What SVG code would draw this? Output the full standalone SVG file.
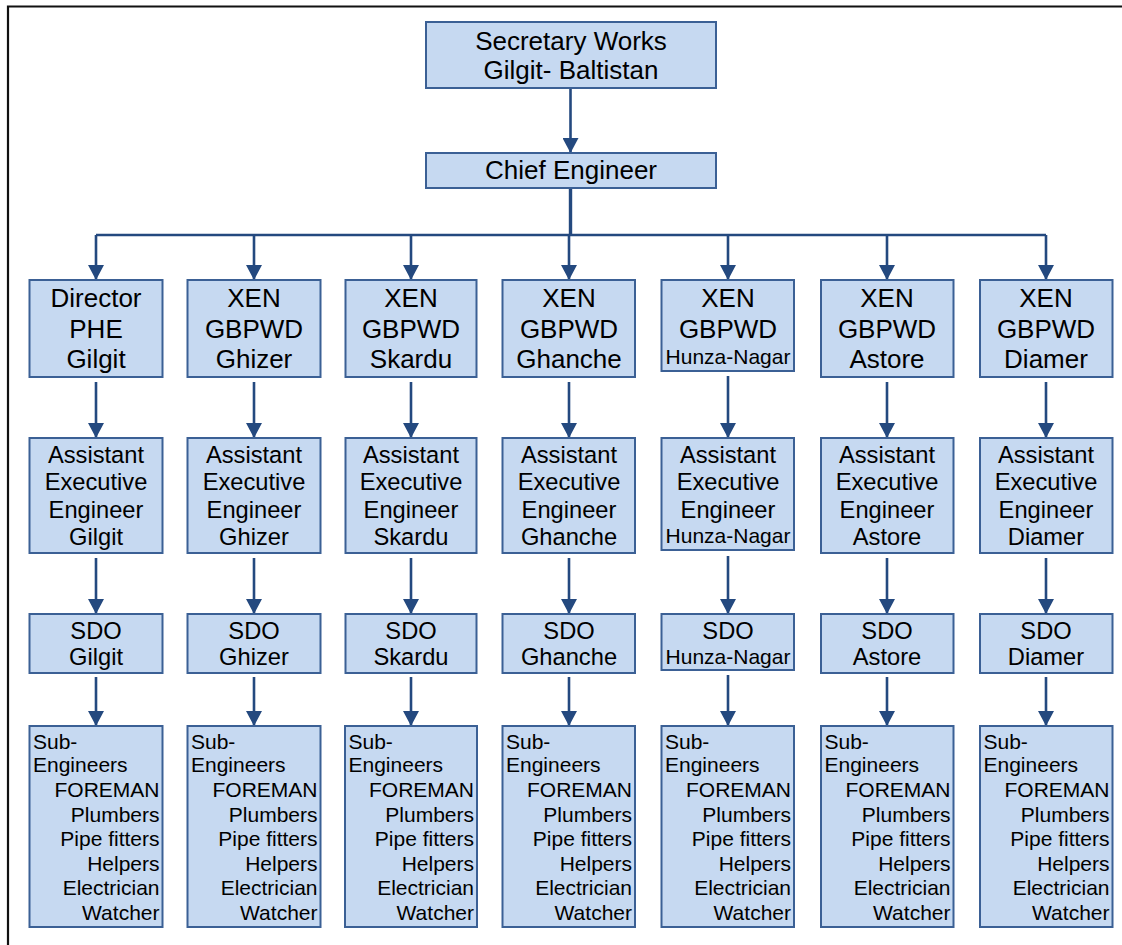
<svg xmlns="http://www.w3.org/2000/svg" width="1122" height="945" viewBox="0 0 1122 945">
<defs>
<style>
.bx{fill:#c6d9f1;stroke:#3b6095;stroke-width:2}
.t{font-family:"Liberation Sans",Arial,sans-serif;fill:#000;text-anchor:middle}
.f26{font-size:26px}
.f24{font-size:23.7px}
.f21{font-size:21px}
.l{text-anchor:start}
.r{text-anchor:end}
.cn{fill:none;stroke:#24497f;stroke-width:2.6}
</style>
<marker id="ah" viewBox="0 0 15 16" refX="15" refY="8" orient="auto" markerUnits="userSpaceOnUse" markerWidth="15" markerHeight="16">
<path d="M0,0 L15,8 L0,16 z" fill="#24497f"/>
</marker>
</defs>
<rect x="0" y="0" width="1122" height="945" fill="#fff"/>
<path d="M8,945 V6.5 H1122" fill="none" stroke="#111" stroke-width="2.2"/>

<g id="connectors">
<path class="cn" d="M570.5,89 V153" marker-end="url(#ah)"/>
<path class="cn" d="M570.5,188 V235" stroke-width="3.4" style="stroke-width:3.4"/>
<path class="cn" d="M96,235 H1046"/>
<path class="cn" d="M96,235 V280" marker-end="url(#ah)"/>
<path class="cn" d="M254,235 V280" marker-end="url(#ah)"/>
<path class="cn" d="M411,235 V280" marker-end="url(#ah)"/>
<path class="cn" d="M569,235 V280" marker-end="url(#ah)"/>
<path class="cn" d="M728,235 V280" marker-end="url(#ah)"/>
<path class="cn" d="M887,235 V280" marker-end="url(#ah)"/>
<path class="cn" d="M1046,235 V280" marker-end="url(#ah)"/>

<path class="cn" d="M96,382 V438" marker-end="url(#ah)"/>
<path class="cn" d="M254,382 V438" marker-end="url(#ah)"/>
<path class="cn" d="M411,382 V438" marker-end="url(#ah)"/>
<path class="cn" d="M569,382 V438" marker-end="url(#ah)"/>
<path class="cn" d="M728,376 V438" marker-end="url(#ah)"/>
<path class="cn" d="M887,382 V438" marker-end="url(#ah)"/>
<path class="cn" d="M1046,382 V438" marker-end="url(#ah)"/>

<path class="cn" d="M96,558 V614" marker-end="url(#ah)"/>
<path class="cn" d="M254,558 V614" marker-end="url(#ah)"/>
<path class="cn" d="M411,558 V614" marker-end="url(#ah)"/>
<path class="cn" d="M569,558 V614" marker-end="url(#ah)"/>
<path class="cn" d="M728,556 V614" marker-end="url(#ah)"/>
<path class="cn" d="M887,558 V614" marker-end="url(#ah)"/>
<path class="cn" d="M1046,558 V614" marker-end="url(#ah)"/>

<path class="cn" d="M96,677 V726" marker-end="url(#ah)"/>
<path class="cn" d="M254,677 V726" marker-end="url(#ah)"/>
<path class="cn" d="M411,677 V726" marker-end="url(#ah)"/>
<path class="cn" d="M569,677 V726" marker-end="url(#ah)"/>
<path class="cn" d="M728,675 V726" marker-end="url(#ah)"/>
<path class="cn" d="M887,677 V726" marker-end="url(#ah)"/>
<path class="cn" d="M1046,677 V726" marker-end="url(#ah)"/>
</g>

<g id="secretary">
<rect class="bx" x="426" y="22" width="290" height="66"/>
<text class="t f26" x="571" y="49.5">Secretary Works</text>
<text class="t f26" x="571" y="78.5">Gilgit- Baltistan</text>
</g>
<g id="chief">
<rect class="bx" x="426" y="153" width="290" height="35"/>
<text class="t f26" x="571" y="178.5">Chief Engineer</text>
</g>

<!-- Row 1 -->
<g id="director-phe">
<rect class="bx" x="29.5" y="280" width="133" height="97"/>
<text class="t f26" x="96" y="307">Director</text>
<text class="t f26" x="96" y="338">PHE</text>
<text class="t f26" x="96" y="368">Gilgit</text>
</g>
<g id="xen-ghizer">
<rect class="bx" x="187.5" y="280" width="133" height="97"/>
<text class="t f26" x="254" y="307">XEN</text>
<text class="t f26" x="254" y="338">GBPWD</text>
<text class="t f26" x="254" y="368">Ghizer</text>
</g>
<g id="xen-skardu">
<rect class="bx" x="345.5" y="280" width="131" height="97"/>
<text class="t f26" x="411" y="307">XEN</text>
<text class="t f26" x="411" y="338">GBPWD</text>
<text class="t f26" x="411" y="368">Skardu</text>
</g>
<g id="xen-ghanche">
<rect class="bx" x="502.5" y="280" width="132.5" height="97"/>
<text class="t f26" x="569" y="307">XEN</text>
<text class="t f26" x="569" y="338">GBPWD</text>
<text class="t f26" x="569" y="368">Ghanche</text>
</g>
<g id="xen-hunza">
<rect class="bx" x="661.5" y="280" width="132.5" height="91"/>
<text class="t f26" x="728" y="307">XEN</text>
<text class="t f26" x="728" y="338">GBPWD</text>
<text class="t f21" x="728" y="363.5">Hunza-Nagar</text>
</g>
<g id="xen-astore">
<rect class="bx" x="821" y="280" width="132.5" height="97"/>
<text class="t f26" x="887" y="307">XEN</text>
<text class="t f26" x="887" y="338">GBPWD</text>
<text class="t f26" x="887" y="368">Astore</text>
</g>
<g id="xen-diamer">
<rect class="bx" x="980" y="280" width="132.5" height="97"/>
<text class="t f26" x="1046" y="307">XEN</text>
<text class="t f26" x="1046" y="338">GBPWD</text>
<text class="t f26" x="1046" y="368">Diamer</text>
</g>

<!-- Row 2 -->
<g id="aee-gilgit">
<rect class="bx" x="29.5" y="438" width="133" height="115"/>
<text class="t f24" x="96" y="463">Assistant</text>
<text class="t f24" x="96" y="490">Executive</text>
<text class="t f24" x="96" y="517.5">Engineer</text>
<text class="t f24" x="96" y="545">Gilgit</text>
</g>
<g id="aee-ghizer">
<rect class="bx" x="187.5" y="438" width="133" height="115"/>
<text class="t f24" x="254" y="463">Assistant</text>
<text class="t f24" x="254" y="490">Executive</text>
<text class="t f24" x="254" y="517.5">Engineer</text>
<text class="t f24" x="254" y="545">Ghizer</text>
</g>
<g id="aee-skardu">
<rect class="bx" x="345.5" y="438" width="131" height="115"/>
<text class="t f24" x="411" y="463">Assistant</text>
<text class="t f24" x="411" y="490">Executive</text>
<text class="t f24" x="411" y="517.5">Engineer</text>
<text class="t f24" x="411" y="545">Skardu</text>
</g>
<g id="aee-ghanche">
<rect class="bx" x="502.5" y="438" width="132.5" height="115"/>
<text class="t f24" x="569" y="463">Assistant</text>
<text class="t f24" x="569" y="490">Executive</text>
<text class="t f24" x="569" y="517.5">Engineer</text>
<text class="t f24" x="569" y="545">Ghanche</text>
</g>
<g id="aee-hunza">
<rect class="bx" x="661.5" y="438" width="132.5" height="112"/>
<text class="t f24" x="728" y="463">Assistant</text>
<text class="t f24" x="728" y="490">Executive</text>
<text class="t f24" x="728" y="517.5">Engineer</text>
<text class="t f21" x="728" y="542.5">Hunza-Nagar</text>
</g>
<g id="aee-astore">
<rect class="bx" x="821" y="438" width="132.5" height="115"/>
<text class="t f24" x="887" y="463">Assistant</text>
<text class="t f24" x="887" y="490">Executive</text>
<text class="t f24" x="887" y="517.5">Engineer</text>
<text class="t f24" x="887" y="545">Astore</text>
</g>
<g id="aee-diamer">
<rect class="bx" x="980" y="438" width="132.5" height="115"/>
<text class="t f24" x="1046" y="463">Assistant</text>
<text class="t f24" x="1046" y="490">Executive</text>
<text class="t f24" x="1046" y="517.5">Engineer</text>
<text class="t f24" x="1046" y="545">Diamer</text>
</g>

<!-- Row 3 -->
<g id="sdo-gilgit">
<rect class="bx" x="29.5" y="614" width="133" height="59"/>
<text class="t f24" x="96" y="638.5">SDO</text>
<text class="t f24" x="96" y="665">Gilgit</text>
</g>
<g id="sdo-ghizer">
<rect class="bx" x="187.5" y="614" width="133" height="59"/>
<text class="t f24" x="254" y="638.5">SDO</text>
<text class="t f24" x="254" y="665">Ghizer</text>
</g>
<g id="sdo-skardu">
<rect class="bx" x="345.5" y="614" width="131" height="59"/>
<text class="t f24" x="411" y="638.5">SDO</text>
<text class="t f24" x="411" y="665">Skardu</text>
</g>
<g id="sdo-ghanche">
<rect class="bx" x="502.5" y="614" width="132.5" height="59"/>
<text class="t f24" x="569" y="638.5">SDO</text>
<text class="t f24" x="569" y="665">Ghanche</text>
</g>
<g id="sdo-hunza">
<rect class="bx" x="661.5" y="614" width="132.5" height="56"/>
<text class="t f24" x="728" y="638.5">SDO</text>
<text class="t f21" x="728" y="663.5">Hunza-Nagar</text>
</g>
<g id="sdo-astore">
<rect class="bx" x="821" y="614" width="132.5" height="59"/>
<text class="t f24" x="887" y="638.5">SDO</text>
<text class="t f24" x="887" y="665">Astore</text>
</g>
<g id="sdo-diamer">
<rect class="bx" x="980" y="614" width="132.5" height="59"/>
<text class="t f24" x="1046" y="638.5">SDO</text>
<text class="t f24" x="1046" y="665">Diamer</text>
</g>

<!-- Row 4 -->
<g id="staff-gilgit">
<rect class="bx" x="29.5" y="726" width="133" height="201"/>
<text class="t f21 l" x="33" y="748.5">Sub-</text>
<text class="t f21 l" x="33" y="772">Engineers</text>
<text class="t f21 r" x="159.5" y="797">FOREMAN</text>
<text class="t f21 r" x="159.5" y="821.5">Plumbers</text>
<text class="t f21 r" x="159.5" y="846">Pipe fitters</text>
<text class="t f21 r" x="159.5" y="870.5">Helpers</text>
<text class="t f21 r" x="159.5" y="895">Electrician</text>
<text class="t f21 r" x="159.5" y="919.5">Watcher</text>
</g>
<g id="staff-ghizer">
<rect class="bx" x="187.5" y="726" width="133" height="201"/>
<text class="t f21 l" x="191" y="748.5">Sub-</text>
<text class="t f21 l" x="191" y="772">Engineers</text>
<text class="t f21 r" x="317.5" y="797">FOREMAN</text>
<text class="t f21 r" x="317.5" y="821.5">Plumbers</text>
<text class="t f21 r" x="317.5" y="846">Pipe fitters</text>
<text class="t f21 r" x="317.5" y="870.5">Helpers</text>
<text class="t f21 r" x="317.5" y="895">Electrician</text>
<text class="t f21 r" x="317.5" y="919.5">Watcher</text>
</g>
<g id="staff-skardu">
<rect class="bx" x="345" y="726" width="132" height="201"/>
<text class="t f21 l" x="348.5" y="748.5">Sub-</text>
<text class="t f21 l" x="348.5" y="772">Engineers</text>
<text class="t f21 r" x="474" y="797">FOREMAN</text>
<text class="t f21 r" x="474" y="821.5">Plumbers</text>
<text class="t f21 r" x="474" y="846">Pipe fitters</text>
<text class="t f21 r" x="474" y="870.5">Helpers</text>
<text class="t f21 r" x="474" y="895">Electrician</text>
<text class="t f21 r" x="474" y="919.5">Watcher</text>
</g>
<g id="staff-ghanche">
<rect class="bx" x="502.5" y="726" width="132.5" height="201"/>
<text class="t f21 l" x="506" y="748.5">Sub-</text>
<text class="t f21 l" x="506" y="772">Engineers</text>
<text class="t f21 r" x="632" y="797">FOREMAN</text>
<text class="t f21 r" x="632" y="821.5">Plumbers</text>
<text class="t f21 r" x="632" y="846">Pipe fitters</text>
<text class="t f21 r" x="632" y="870.5">Helpers</text>
<text class="t f21 r" x="632" y="895">Electrician</text>
<text class="t f21 r" x="632" y="919.5">Watcher</text>
</g>
<g id="staff-hunza">
<rect class="bx" x="661.5" y="726" width="132.5" height="201"/>
<text class="t f21 l" x="665" y="748.5">Sub-</text>
<text class="t f21 l" x="665" y="772">Engineers</text>
<text class="t f21 r" x="791" y="797">FOREMAN</text>
<text class="t f21 r" x="791" y="821.5">Plumbers</text>
<text class="t f21 r" x="791" y="846">Pipe fitters</text>
<text class="t f21 r" x="791" y="870.5">Helpers</text>
<text class="t f21 r" x="791" y="895">Electrician</text>
<text class="t f21 r" x="791" y="919.5">Watcher</text>
</g>
<g id="staff-astore">
<rect class="bx" x="821" y="726" width="132.5" height="201"/>
<text class="t f21 l" x="824.5" y="748.5">Sub-</text>
<text class="t f21 l" x="824.5" y="772">Engineers</text>
<text class="t f21 r" x="950.5" y="797">FOREMAN</text>
<text class="t f21 r" x="950.5" y="821.5">Plumbers</text>
<text class="t f21 r" x="950.5" y="846">Pipe fitters</text>
<text class="t f21 r" x="950.5" y="870.5">Helpers</text>
<text class="t f21 r" x="950.5" y="895">Electrician</text>
<text class="t f21 r" x="950.5" y="919.5">Watcher</text>
</g>
<g id="staff-diamer">
<rect class="bx" x="980" y="726" width="132.5" height="201"/>
<text class="t f21 l" x="983.5" y="748.5">Sub-</text>
<text class="t f21 l" x="983.5" y="772">Engineers</text>
<text class="t f21 r" x="1109.5" y="797">FOREMAN</text>
<text class="t f21 r" x="1109.5" y="821.5">Plumbers</text>
<text class="t f21 r" x="1109.5" y="846">Pipe fitters</text>
<text class="t f21 r" x="1109.5" y="870.5">Helpers</text>
<text class="t f21 r" x="1109.5" y="895">Electrician</text>
<text class="t f21 r" x="1109.5" y="919.5">Watcher</text>
</g>
</svg>
